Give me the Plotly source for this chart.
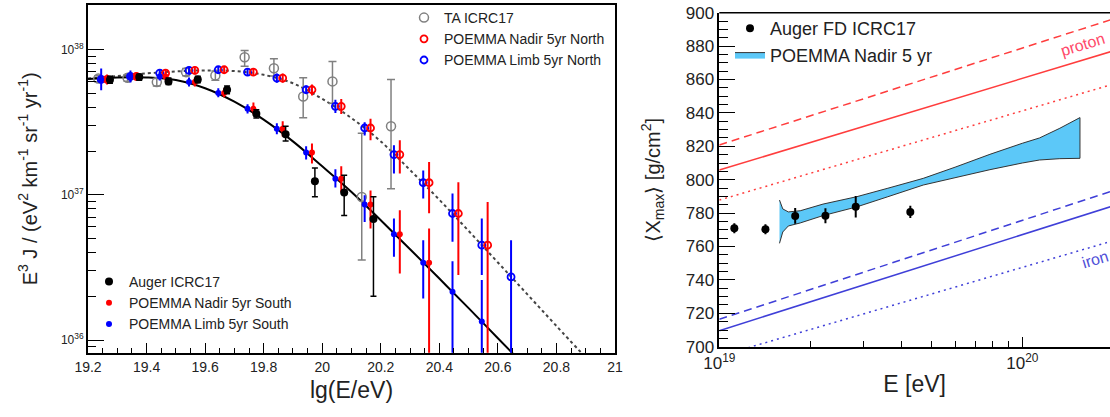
import plotly.graph_objects as go

W, H = 1110, 417

# ---------------- Left panel data: E^3 J vs lg(E/eV) ----------------
auger_lgE = [19.275, 19.375, 19.475, 19.575, 19.675, 19.775, 19.875, 19.975, 20.075, 20.175]
auger_flux = [6.19e37, 6.46e37, 6.03e37, 6.22e37, 5.28e37, 3.61e37, 2.61e37, 1.24e37, 1.035e37, 6.8e36]
auger_hi = [6.55e37, 6.75e37, 6.35e37, 6.55e37, 5.6e37, 3.84e37, 2.96e37, 1.53e37, 1.36e37, 9.7e36]
auger_lo = [5.85e37, 6.15e37, 5.75e37, 5.9e37, 4.95e37, 3.38e37, 2.34e37, 0.97e37, 0.72e37, 2.0e36]

ta_lgE = [19.235, 19.335, 19.435, 19.535, 19.635, 19.735, 19.835, 19.935, 20.035, 20.135, 20.235]
ta_flux = [6.3e37, 6.38e37, 5.96e37, 6.98e37, 6.63e37, 8.85e37, 7.43e37, 4.75e37, 6.03e37, 9.66e36, 2.96e37]
ta_hi = [6.6e37, 6.7e37, 6.3e37, 7.4e37, 7.1e37, 9.85e37, 8.63e37, 6.39e37, 8.27e37, 2.65e37, 6.22e37]
ta_lo = [6.0e37, 6.05e37, 5.6e37, 6.6e37, 6.15e37, 7.67e37, 6.57e37, 3.39e37, 4.26e37, 3.55e36, 1.10e37]

limb_s_lgE = [19.245, 19.345, 19.445, 19.545, 19.645, 19.745, 19.845, 19.945, 20.045, 20.145,
              20.245, 20.345, 20.445, 20.545]
limb_s_flux = [6.22e37, 6.52e37, 6.52e37, 5.96e37, 5.01e37, 3.91e37, 2.85e37, 1.95e37, 1.29e37, 8.56e36,
               5.35e36, 3.40e36, 2.15e36, 1.34e36]
limb_s_hi = [7.40e37, 7.17e37, 6.95e37, 6.42e37, 5.40e37, 4.19e37, 3.10e37, 2.16e37, 1.50e37, 9.92e36,
             6.86e36, 4.87e36, 3.49e36, 2.59e36]
limb_s_lo = [5.23e37, 5.93e37, 6.12e37, 5.57e37, 4.68e37, 3.63e37, 2.61e37, 1.75e37, 1.12e37, 6.50e36,
             3.74e36, 1.93e36, 5e35, 5e35]

nadir_s_lgE = [19.265, 19.365, 19.465, 19.565, 19.665, 19.765, 19.865, 19.965, 20.065, 20.165,
               20.265, 20.365]
nadir_s_flux = [6.22e37, 6.52e37, 6.52e37, 5.96e37, 5.01e37, 3.91e37, 2.85e37, 1.95e37, 1.29e37, 8.56e36,
                5.35e36, 3.40e36]
nadir_s_hi = [6.73e37, 6.95e37, 6.95e37, 6.42e37, 5.40e37, 4.32e37, 3.20e37, 2.25e37, 1.57e37, 1.07e37,
              7.83e36, 5.86e36]
nadir_s_lo = [5.75e37, 6.12e37, 6.12e37, 5.57e37, 4.68e37, 3.58e37, 2.52e37, 1.64e37, 1.045e37, 5.86e36,
              2.87e36, 5e35]

limb_n_lgE = [19.245, 19.345, 19.445, 19.545, 19.645, 19.745, 19.845, 19.945, 20.045, 20.145,
              20.245, 20.345, 20.445, 20.545, 20.645]
limb_n_flux = [6.22e37, 6.52e37, 6.87e37, 7.17e37, 7.25e37, 6.98e37, 6.35e37, 5.28e37, 4.06e37, 2.88e37,
               1.89e37, 1.21e37, 7.43e36, 4.50e36, 2.72e36]
limb_n_hi = [6.57e37, 6.95e37, 7.29e37, 7.64e37, 7.70e37, 7.40e37, 6.84e37, 5.66e37, 4.50e37, 3.16e37,
             2.19e37, 1.47e37, 1.02e37, 6.86e36, 4.87e36]
limb_n_lo = [5.84e37, 6.12e37, 6.47e37, 6.73e37, 6.84e37, 6.57e37, 5.89e37, 4.95e37, 3.66e37, 2.56e37,
             1.40e37, 9.42e36, 4.74e36, 2.80e36, 5e35]

nadir_n_lgE = [19.265, 19.365, 19.465, 19.565, 19.665, 19.765, 19.865, 19.965, 20.065, 20.165,
               20.265, 20.365, 20.465, 20.565]
nadir_n_flux = [6.22e37, 6.52e37, 6.87e37, 7.17e37, 7.25e37, 6.98e37, 6.35e37, 5.28e37, 4.06e37, 2.88e37,
                1.89e37, 1.21e37, 7.43e36, 4.50e36]
nadir_n_hi = [6.57e37, 6.95e37, 7.29e37, 7.64e37, 7.70e37, 7.40e37, 6.84e37, 5.75e37, 4.57e37, 3.34e37,
              2.37e37, 1.68e37, 1.22e37, 8.92e36]
nadir_n_lo = [5.84e37, 6.12e37, 6.47e37, 6.73e37, 6.84e37, 6.57e37, 5.89e37, 4.83e37, 3.60e37, 2.37e37,
              1.40e37, 7.46e36, 2.80e36, 5e35]

auger_fit_lgE = [19.2, 19.3, 19.4, 19.5, 19.6, 19.7, 19.8, 19.9, 20.0, 20.1, 20.2, 20.3, 20.4, 20.5, 20.6, 20.7]
auger_fit = [6.27e37, 6.42e37, 6.42e37, 6.17e37, 5.41e37, 4.37e37, 3.29e37, 2.33e37, 1.57e37, 1.045e37,
             6.68e36, 4.22e36, 2.65e36, 1.66e36, 1.03e36, 6.4e35]
ta_fit_lgE = [19.2, 19.3, 19.4, 19.5, 19.6, 19.7, 19.8, 19.9, 20.0, 20.1, 20.2, 20.3, 20.4, 20.5, 20.6,
              20.7, 20.8, 20.9]
ta_fit = [6.32e37, 6.57e37, 6.84e37, 7.06e37, 7.17e37, 7.10e37, 6.69e37, 5.85e37, 4.57e37, 3.37e37,
          2.33e37, 1.48e37, 9.24e36, 5.64e36, 3.42e36, 2.07e36, 1.25e36, 7.58e35]

# ---------------- Right panel data: <Xmax> vs E ----------------
fd_E = [1.121e19, 1.42e19, 1.78e19, 2.24e19, 2.82e19, 4.27e19]
fd_xmax = [770.9, 770.3, 778.3, 778.4, 783.8, 780.7]
fd_err = [3.0, 3.0, 4.7, 4.5, 6.5, 3.7]

band_E = [1.58e19, 1.62e19, 1.69e19, 1.85e19, 2.2e19, 2.84e19, 3.6e19, 4.71e19, 6.0e19, 7.82e19,
          1.0e20, 1.14e20, 1.33e20, 1.55e20]
band_upper = [787.8, 782.5, 780.7, 781.4, 785.4, 789.8, 794.9, 800.8, 807.5, 815.2, 821.8, 825.0, 830.8, 837.2]
band_lower = [761.9, 768.7, 772.3, 774.1, 778.5, 783.7, 789.8, 796.8, 801.1, 806.0, 810.0, 811.8, 812.6, 812.8]

model_E = [1e19, 2e20]
proton_dashed = [820.8, 896.3]
proton_solid = [805.8, 877.2]
proton_dotted = [787.8, 857.3]
iron_dashed = [716.4, 793.5]
iron_solid = [709.6, 784.4]
iron_dotted = [694.3, 763.5]

FONT = "Liberation Sans, Arial, Helvetica, sans-serif"
RED, BLUE, GRAY = "#ff0000", "#0000ff", "#808080"


def errbars(vals, hi, lo, color, thick, width):
    return dict(type="data", symmetric=False,
                array=[h - v for h, v in zip(hi, vals)],
                arrayminus=[v - l for v, l in zip(vals, lo)],
                color=color, thickness=thick, width=width)


fig = go.Figure()

# fits
fig.add_trace(go.Scatter(x=ta_fit_lgE, y=ta_fit, mode="lines", line=dict(color="#444", width=2, dash="3px,3px", shape="spline"),
                         showlegend=False, xaxis="x", yaxis="y", hoverinfo="skip"))
fig.add_trace(go.Scatter(x=auger_fit_lgE, y=auger_fit, mode="lines", line=dict(color="#000", width=2, shape="spline"),
                         showlegend=False, xaxis="x", yaxis="y", hoverinfo="skip"))

# TA and North
fig.add_trace(go.Scatter(x=ta_lgE, y=ta_flux, mode="markers", name="TA ICRC17",
                         marker=dict(symbol="circle-open", size=9, color=GRAY, line=dict(width=1.5)),
                         error_y=errbars(ta_flux, ta_hi, ta_lo, GRAY, 1.5, 4),
                         legend="legend", legendrank=1, xaxis="x", yaxis="y"))
fig.add_trace(go.Scatter(x=limb_n_lgE, y=limb_n_flux, mode="markers", name="POEMMA Limb 5yr North",
                         marker=dict(symbol="circle-open", size=7, color=BLUE, line=dict(width=1.8)),
                         error_y=errbars(limb_n_flux, limb_n_hi, limb_n_lo, BLUE, 2, 0),
                         legend="legend", legendrank=3, xaxis="x", yaxis="y"))
fig.add_trace(go.Scatter(x=nadir_n_lgE, y=nadir_n_flux, mode="markers", name="POEMMA Nadir 5yr North",
                         marker=dict(symbol="circle-open", size=7, color=RED, line=dict(width=1.8)),
                         error_y=errbars(nadir_n_flux, nadir_n_hi, nadir_n_lo, RED, 2, 0),
                         legend="legend", legendrank=2, xaxis="x", yaxis="y"))
# South
fig.add_trace(go.Scatter(x=limb_s_lgE, y=limb_s_flux, mode="markers", name="POEMMA Limb 5yr South",
                         marker=dict(symbol="circle", size=6, color=BLUE),
                         error_y=errbars(limb_s_flux, limb_s_hi, limb_s_lo, BLUE, 2, 0),
                         legend="legend2", legendrank=3, xaxis="x", yaxis="y"))
fig.add_trace(go.Scatter(x=nadir_s_lgE, y=nadir_s_flux, mode="markers", name="POEMMA Nadir 5yr South",
                         marker=dict(symbol="circle", size=6, color=RED),
                         error_y=errbars(nadir_s_flux, nadir_s_hi, nadir_s_lo, RED, 2, 0),
                         legend="legend2", legendrank=2, xaxis="x", yaxis="y"))
fig.add_trace(go.Scatter(x=auger_lgE, y=auger_flux, mode="markers", name="Auger ICRC17",
                         marker=dict(symbol="circle", size=8, color="#000"),
                         error_y=errbars(auger_flux, auger_hi, auger_lo, "#000", 1.5, 3),
                         legend="legend2", legendrank=1, xaxis="x", yaxis="y"))

# Right panel: models
PRED, PBLUE = "#ff3d3d", "#3f3fd8"
for vals, col, dash in [(proton_dashed, PRED, "8px,5px"), (proton_solid, PRED, "solid"), (proton_dotted, PRED, "2px,4px"),
                        (iron_dashed, PBLUE, "8px,5px"), (iron_solid, PBLUE, "solid"), (iron_dotted, PBLUE, "2px,4px")]:
    fig.add_trace(go.Scatter(x=model_E, y=vals, mode="lines", line=dict(color=col, width=1.5, dash=dash),
                             showlegend=False, xaxis="x2", yaxis="y2", hoverinfo="skip"))

fig.add_trace(go.Scatter(x=band_E + band_E[::-1], y=band_upper + band_lower[::-1], mode="lines",
                         fill="toself", fillcolor="#5cc8f8", line=dict(color="#333", width=1),
                         name="POEMMA Nadir 5 yr", legend="legend3", legendrank=2, xaxis="x2", yaxis="y2"))
fig.add_trace(go.Scatter(x=fd_E, y=fd_xmax, mode="markers", name="Auger FD ICRC17",
                         marker=dict(symbol="circle", size=8, color="#000"),
                         error_y=dict(type="data", array=fd_err, color="#000", thickness=2, width=0),
                         legend="legend3", legendrank=1, xaxis="x2", yaxis="y2"))

left_minor = [m * 10.0 ** e for e in (35, 36, 37, 38) for m in range(2, 10)]
right_minor = [m * 1e19 for m in range(2, 10)]

axis_common = dict(showline=True, linecolor="#000", ticks="inside", tickcolor="#000", showgrid=False,
                   zeroline=False, automargin=False, tickfont=dict(family=FONT, color="#222"))

XR = 1110.0  # right edge of the right-hand plot area in px
Y2_TOP = 12.7

fig.update_layout(
    width=W, height=H, margin=dict(l=0, r=0, t=0, b=0, autoexpand=False),
    paper_bgcolor="white", plot_bgcolor="white",
    font=dict(family=FONT, color="#111"),
    xaxis=dict(axis_common, domain=[88 / W, 615 / W], range=[19.2, 21], anchor="y", mirror=True, linewidth=2,
               tickvals=[19.2, 19.4, 19.6, 19.8, 20, 20.2, 20.4, 20.6, 20.8, 21],
               ticktext=["19.2", "19.4", "19.6", "19.8", "20", "20.2", "20.4", "20.6", "20.8", "21"],
               ticklen=10, tickfont=dict(size=14, family=FONT, color="#222"),
               minor=dict(dtick=0.05, tick0=19.2, ticks="inside", ticklen=5, tickcolor="#000"),
               title=dict(text="lg(E/eV)", font=dict(size=23, family=FONT, color="#222"), standoff=8)),
    yaxis=dict(axis_common, domain=[(H - 352.7) / H, (H - 5) / H], type="log", range=[35.913, 38.306],
               anchor="x", mirror=True, linewidth=2,
               tickvals=[1e36, 1e37, 1e38], ticktext=["10<sup>36</sup>", "10<sup>37</sup>", "10<sup>38</sup>"],
               ticklen=16, tickfont=dict(size=12, family=FONT, color="#222"),
               minor=dict(tickvals=left_minor, ticks="inside", ticklen=8, tickcolor="#000"),
               title=dict(text="E<sup>3</sup> J / (eV<sup>2</sup> km<sup>-1</sup> sr<sup>-1</sup> yr<sup>-1</sup>)",
                          font=dict(size=20, family=FONT, color="#222"), standoff=18)),
    xaxis2=dict(axis_common, domain=[719.3 / W, XR / W], type="log", range=[19, 19 + (XR - 719.3) / 303],
                anchor="y2", mirror=False,
                linewidth=1.5, tickvals=[1e19, 1e20], ticktext=["10<sup>19</sup>", "10<sup>20</sup>"],
                ticklen=10, tickfont=dict(size=17, family=FONT, color="#222"),
                minor=dict(tickvals=right_minor, ticks="inside", ticklen=6, tickcolor="#000"),
                title=dict(text="E [eV]", font=dict(size=23, family=FONT, color="#222"), standoff=4)),
    yaxis2=dict(axis_common, domain=[(H - 346.7) / H, (H - Y2_TOP) / H], range=[700, 900], anchor="x2",
                mirror=False, linewidth=1.5, dtick=20, ticklen=16, tickfont=dict(size=17, family=FONT, color="#222"),
                minor=dict(dtick=5, ticks="inside", ticklen=9, tickcolor="#000"),
                title=dict(text="⟨X<sub>max</sub>⟩ [g/cm<sup>2</sup>]", font=dict(size=20, family=FONT, color="#222"),
                           standoff=20)),
    legend=dict(x=404 / W, y=(H - 2) / H, xanchor="left", yanchor="top", bgcolor="rgba(0,0,0,0)",
                font=dict(size=14, family=FONT, color="#222"), itemclick=False),
    legend2=dict(x=89 / W, y=(H - 266) / H, xanchor="left", yanchor="top", bgcolor="rgba(0,0,0,0)",
                 font=dict(size=14, family=FONT, color="#222"), itemclick=False),
    legend3=dict(x=730 / W, y=(H - 10) / H, xanchor="left", yanchor="top", bgcolor="rgba(0,0,0,0)",
                 font=dict(size=18, family=FONT, color="#222"), itemclick=False),
    shapes=[dict(type="line", xref="paper", yref="paper", x0=719.3 / W, x1=1.0,
                 y0=(H - Y2_TOP) / H, y1=(H - Y2_TOP) / H, line=dict(color="#000", width=1.5))],
    annotations=[
        dict(text="proton", x=20.2, y=881, xref="x2", yref="y2", showarrow=False, textangle=-17,
             font=dict(size=16, family=FONT, color="#ff4a6a")),
        dict(text="iron", x=20.24, y=752, xref="x2", yref="y2", showarrow=False, textangle=-17,
             font=dict(size=16, family=FONT, color="#5050d8")),
    ],
)

fig.write_html("out.html",
               post_script="document.documentElement.style.overflow='hidden';"
                           "document.body.style.overflow='hidden';document.body.style.margin='0';")
